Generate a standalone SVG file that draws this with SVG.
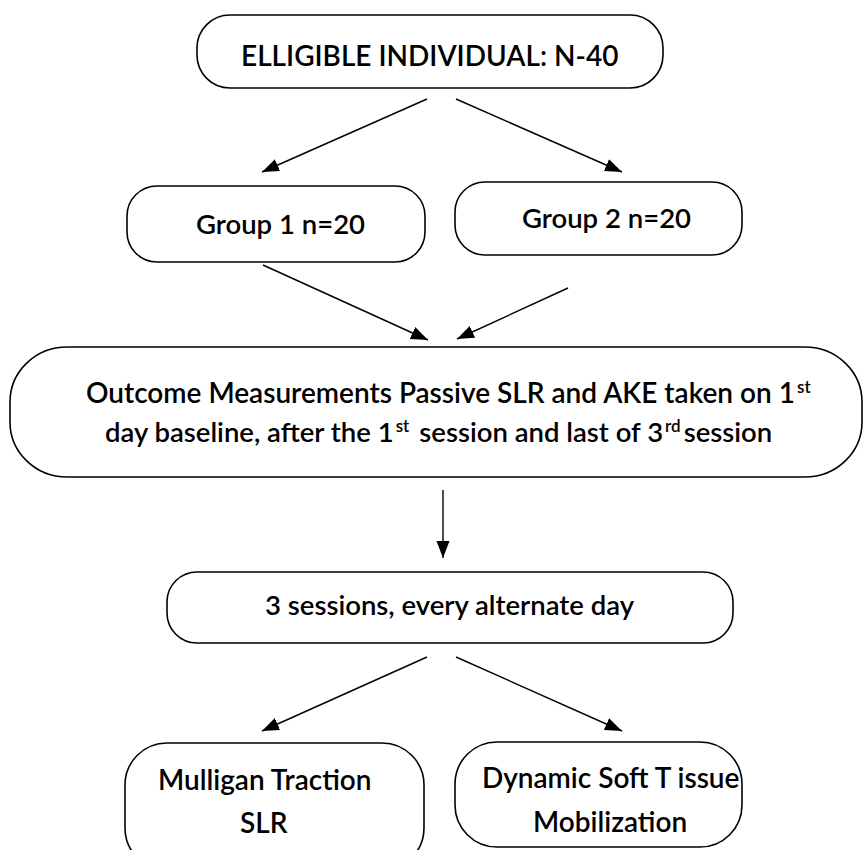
<svg xmlns="http://www.w3.org/2000/svg" width="864" height="850" viewBox="0 0 864 850">
<style>
.box{fill:#fff;stroke:#000;stroke-width:1.6}
.t{font-family:Lato,"Open Sans","Liberation Sans",sans-serif;font-size:28px;font-weight:600;fill:#000}
.s{font-size:27.5px}
.sup{font-size:17px}
.c{stroke:#000;stroke-width:1.4;fill:none;marker-end:url(#ah)}
</style>
<defs>
<marker id="ah" markerUnits="userSpaceOnUse" markerWidth="18" markerHeight="14" refX="17" refY="6.5" orient="auto">
<path d="M0,0 L17,6.5 L0,13 z" fill="#000"/>
</marker>
</defs>
<rect width="864" height="850" fill="#fff"/>
<g id="connectors">
<line class="c" x1="427" y1="99" x2="262" y2="172"/>
<line class="c" x1="456" y1="99" x2="622" y2="172"/>
<line class="c" x1="263" y1="265" x2="428" y2="340"/>
<line class="c" x1="568" y1="288" x2="457" y2="339"/>
<line class="c" x1="443" y1="490" x2="443" y2="558"/>
<line class="c" x1="427" y1="657" x2="262" y2="731"/>
<line class="c" x1="456" y1="657" x2="622" y2="731"/>
</g>
<g id="eligible">
<rect class="box" x="197" y="15" width="466" height="73" rx="33" ry="33"/>
<text class="t" x="241" y="66">ELLIGIBLE INDIVIDUAL: N-40</text>
</g>
<g id="group1">
<rect class="box" x="127" y="186" width="298" height="76" rx="30" ry="30"/>
<text class="t s" x="196" y="234">Group 1 n=20</text>
</g>
<g id="group2">
<rect class="box" x="455" y="182" width="287" height="73" rx="30" ry="30"/>
<text class="t s" x="522" y="228">Group 2 n=20</text>
</g>
<g id="outcome">
<rect class="box" x="10" y="347" width="852" height="130" rx="57" ry="55"/>
<text class="t" x="86" y="403">Outcome Measurements Passive SLR and AKE taken on 1<tspan class="sup" dx="2" dy="-10">st</tspan></text>
<text class="t s" x="105" y="442">day baseline, after the 1<tspan class="sup" dx="2" dy="-10">st</tspan><tspan dx="10" dy="10">session and last of 3</tspan><tspan class="sup" dx="2" dy="-10">rd</tspan><tspan dx="3" dy="10">session</tspan></text>
</g>
<g id="sessions">
<rect class="box" x="167" y="572" width="566" height="71" rx="30" ry="30"/>
<text class="t s" x="265" y="615">3 sessions, every alternate day</text>
</g>
<g id="mulligan">
<rect class="box" x="125" y="743" width="299" height="127" rx="42" ry="42"/>
<text class="t" x="158" y="790">Mulligan Traction</text>
<text class="t" x="240" y="833">SLR</text>
</g>
<g id="dynamic">
<rect class="box" x="455" y="742" width="287" height="105" rx="42" ry="42"/>
<text class="t" x="482" y="788">Dynamic Soft T issue</text>
<text class="t" x="533" y="832">Mobilization</text>
</g>
</svg>
